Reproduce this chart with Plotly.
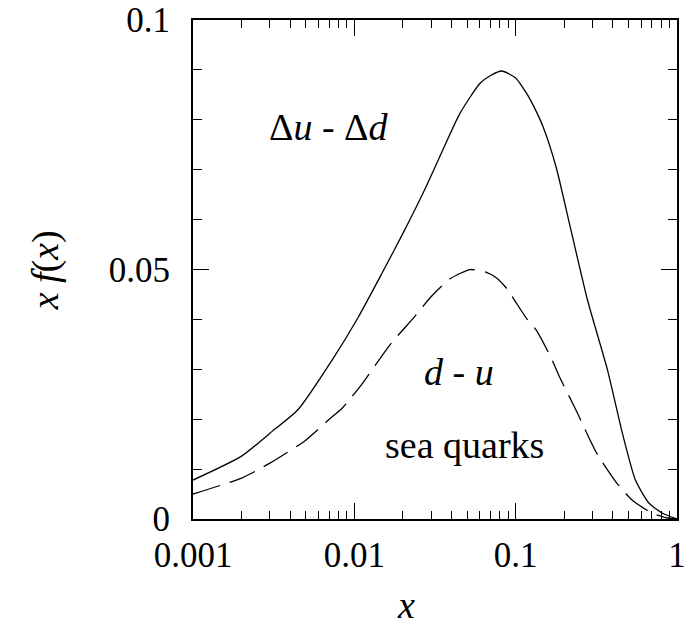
import plotly.graph_objects as go

# Delta u - Delta d (solid)
x_pol = [0.001, 0.002, 0.003, 0.0045, 0.0073, 0.0106, 0.0147, 0.0205, 0.0272, 0.036,
         0.045, 0.06, 0.07, 0.082, 0.1, 0.117, 0.13, 0.148, 0.179, 0.22,
         0.279, 0.371, 0.459, 0.553, 0.67, 0.81, 1.0]
y_pol = [0.0078, 0.0126, 0.0172, 0.0220, 0.0319, 0.0405, 0.0490, 0.0579, 0.0659, 0.0745,
         0.0812, 0.0873, 0.0889, 0.0898, 0.0884, 0.0853, 0.0826, 0.0786, 0.0703, 0.058,
         0.0439, 0.0299, 0.0172, 0.0078, 0.0032, 0.0012, 0.0]

# dbar - ubar (dashed)
x_sea = [0.001, 0.002, 0.003, 0.005, 0.007, 0.0084, 0.011, 0.0169, 0.0236, 0.0298,
         0.0395, 0.0524, 0.0664, 0.0748, 0.088, 0.1168, 0.1346, 0.166, 0.187, 0.237,
         0.318, 0.417, 0.527, 0.70, 0.88, 1.0]
y_sea = [0.005, 0.0082, 0.0112, 0.0158, 0.0200, 0.0222, 0.0268, 0.0352, 0.0405, 0.0445,
         0.0482, 0.0500, 0.0494, 0.0485, 0.0462, 0.0402, 0.0378, 0.0323, 0.0285, 0.0218,
         0.0132, 0.0075, 0.0038, 0.0012, 0.0002, 0.0]

x_tickvals = [0.001, 0.01, 0.1, 1]
x_ticktext = ["0.001", "0.01", "0.1", "1"]
x_minor = [m * 10**e for e in (-3, -2, -1) for m in range(2, 10)]
y_tickvals = [0, 0.05, 0.1]
y_ticktext = ["0", "0.05", "0.1"]
y_minor = [0.01, 0.02, 0.03, 0.04, 0.06, 0.07, 0.08, 0.09]

FONT = "Liberation Serif, Times New Roman, serif"

fig = go.Figure()
fig.add_trace(go.Scatter(x=x_pol, y=y_pol, mode="lines",
                         line=dict(color="black", width=1.3, shape="spline", smoothing=0.6),
                         showlegend=False))
fig.add_trace(go.Scatter(x=x_sea, y=y_sea, mode="lines",
                         line=dict(color="black", width=1.3, dash="28px,10px",
                                   shape="spline", smoothing=0.6),
                         showlegend=False))

axis_common = dict(showgrid=False, zeroline=False, showline=True, linecolor="black",
                   linewidth=2, mirror="allticks", ticks="inside", tickcolor="black",
                   tickwidth=1, ticklabeloverflow="allow", automargin=False,
                   tickfont=dict(family=FONT, size=35, color="black"))

fig.update_xaxes(type="log", range=[-3, 0.0005], tickvals=x_tickvals, ticktext=x_ticktext,
                 ticklen=16, ticklabelstandoff=4,
                 minor=dict(tickvals=x_minor, ticks="inside", ticklen=8,
                            tickcolor="black", tickwidth=1),
                 **axis_common)
fig.update_yaxes(range=[0, 0.10002], tickvals=y_tickvals, ticktext=y_ticktext,
                 ticklen=16, ticklabelstandoff=14,
                 minor=dict(tickvals=y_minor, ticks="inside", ticklen=9,
                            tickcolor="black", tickwidth=1),
                 **axis_common)

ann_font = dict(family=FONT, size=38, color="black")
def label(x, y, text, angle=0):
    fig.add_annotation(xref="paper", yref="paper", x=x, y=y, text=text, textangle=angle,
                       showarrow=False, font=ann_font, xanchor="center", yanchor="middle")

label(0.282, 0.786, "Δ<i>u</i> - Δ<i>d</i>")
label(0.55, 0.295, "<i>d</i> - <i>u</i>")
label(0.56, 0.148, "sea quarks")
label(0.44, -0.172, "<i>x</i>")
label(-0.303, 0.499, "<i>x f</i>(<i>x</i>)", -90)

fig.update_layout(width=686, height=634, paper_bgcolor="white", plot_bgcolor="white",
                  margin=dict(l=193, r=9, t=20, b=115, autoexpand=False))

fig.write_html("out.html", post_script="document.body.style.margin='0';",
               config={"displayModeBar": False})
